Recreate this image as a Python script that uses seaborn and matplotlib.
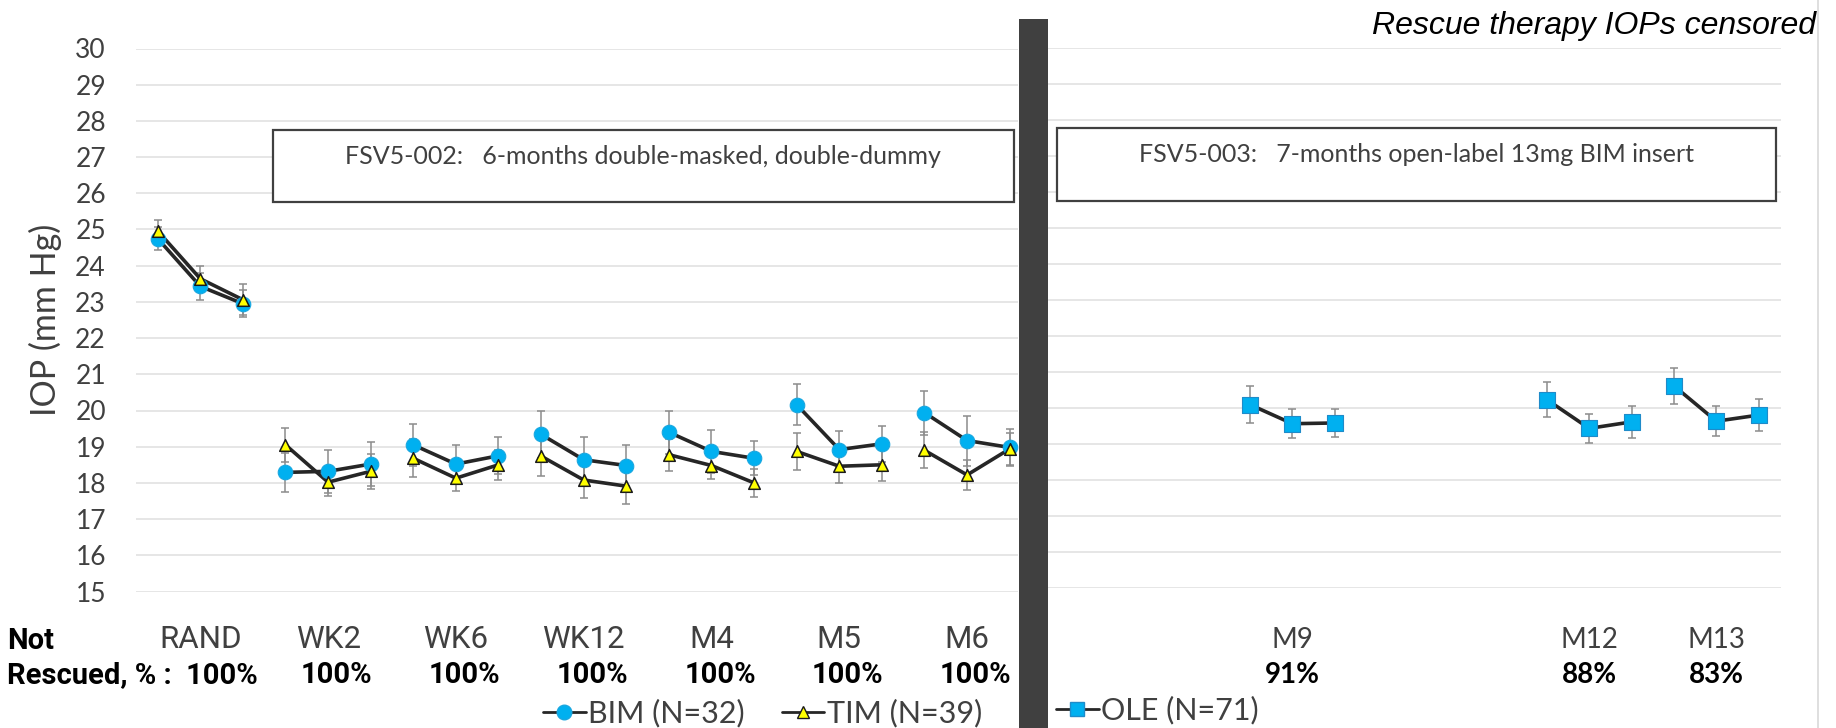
import numpy as np
import pandas as pd
import matplotlib
matplotlib.use("Agg")
import matplotlib.pyplot as plt
import matplotlib.transforms as mtransforms
from matplotlib.patches import Rectangle
from matplotlib.lines import Line2D
import seaborn as sns

# ---- FSV5-002: double-masked phase, three readings per visit ----
dm_visits = ["RAND", "WK2", "WK6", "WK12", "M4", "M5", "M6"]
bim_iop = [24.75, 23.43, 22.95,
           18.29, 18.32, 18.52,
           19.05, 18.52, 18.75,
           19.34, 18.64, 18.48,
           19.40, 18.87, 18.68,
           20.16, 18.92, 19.08,
           19.94, 19.17, 18.98]
bim_se = [0.32, 0.37, 0.37,
          0.53, 0.59, 0.60,
          0.58, 0.53, 0.51,
          0.66, 0.62, 0.57,
          0.60, 0.60, 0.47,
          0.56, 0.50, 0.49,
          0.61, 0.69, 0.50]
tim_iop = [24.96, 23.64, 23.06,
           19.05, 18.02, 18.32,
           18.68, 18.13, 18.50,
           18.74, 18.08, 17.91,
           18.78, 18.48, 18.00,
           18.87, 18.46, 18.50,
           18.90, 18.22, 18.94]
tim_se = [0.30, 0.35, 0.43,
          0.46, 0.37, 0.49,
          0.52, 0.34, 0.42,
          0.54, 0.50, 0.50,
          0.44, 0.37, 0.38,
          0.50, 0.46, 0.46,
          0.50, 0.42, 0.45]
dm_not_rescued = ["100%", "100%", "100%", "100%", "100%", "100%", "100%"]

# ---- FSV5-003: open-label extension ----
ole_visits = ["M9", "M12", "M13"]
ole_iop = [20.08, 19.55, 19.57,
           20.22, 19.42, 19.60,
           20.60, 19.62, 19.79]
ole_se = [0.51, 0.40, 0.40,
          0.48, 0.40, 0.44,
          0.50, 0.42, 0.45]
ole_not_rescued = ["91%", "88%", "83%"]

y_ticks = list(range(15, 31))

series_labels = ["BIM (N=32)", "TIM (N=39)", "OLE (N=71)"]
box_texts = ["FSV5-002:   6-months double-masked, double-dummy",
             "FSV5-003:   7-months open-label 13mg BIM insert"]

# ---- layout helpers (figure pixels) ----
W, H = 1836, 728
READS = 3


def fx(px):
    return px / W


def fy(py):
    return 1 - py / H


sns.set_style("white")
plt.rcParams["font.family"] = ["Lato", "DejaVu Sans"]

fig = plt.figure(figsize=(W / 100, H / 100), dpi=100)
fig.patch.set_facecolor("white")

BLUE = "#00B0F0"
YELLOW = "#FFFF00"
LINE = "#262626"
ERR = "#8C8C8C"
TXT = "#404040"

# long-form tables
dm = pd.DataFrame({
    "visit": np.repeat(dm_visits, READS),
    "slot": np.arange(len(dm_visits) * READS),
    "BIM": bim_iop, "BIM_se": bim_se,
    "TIM": tim_iop, "TIM_se": tim_se,
})
ole_start = [0, 7, 10]
ole = pd.DataFrame({
    "visit": np.repeat(ole_visits, READS),
    "slot": np.concatenate([np.arange(s, s + READS) for s in ole_start]),
    "OLE": ole_iop, "OLE_se": ole_se,
})


def draw_series(ax, df, col, marker, face, edge, size, ew):
    ax.errorbar(df["slot"], df[col], yerr=df[col + "_se"], fmt="none",
                ecolor=ERR, elinewidth=1.1, capsize=3.2, capthick=1.1, zorder=2)
    sns.lineplot(data=df, x="slot", y=col, units="visit", estimator=None,
                 color=LINE, lw=2.6, ax=ax, legend=False, zorder=3)
    sns.scatterplot(data=df, x="slot", y=col, marker=marker, s=size,
                    color=face, edgecolor=edge, linewidth=ew, ax=ax,
                    legend=False, zorder=4)


def style_axis(ax):
    for sp in ax.spines.values():
        sp.set_visible(False)
    ax.set_ylim(15, 30)
    ax.set_yticks(y_ticks)
    ax.grid(axis="y", color="#E4E4E4", lw=1.3)
    ax.grid(axis="x", visible=False)
    ax.set_axisbelow(True)
    ax.set_xlabel("")
    ax.set_ylabel("")
    ax.patch.set_alpha(0)


# ---- left panel ----
axL = fig.add_axes([fx(136.4), fy(591.5), fx(1018) - fx(136.4), (591.5 - 48.5) / H])
draw_series(axL, dm, "BIM", "o", BLUE, "#1AA7E0", 110, 0.8)
draw_series(axL, dm, "TIM", "^", YELLOW, "#1A1A1A", 70, 1.1)
style_axis(axL)
axL.set_xlim(-0.5, 20.195)
axL.set_xticks([READS * i + 1 for i in range(len(dm_visits))], dm_visits)
axL.set_yticklabels([str(v) for v in y_ticks])
axL.tick_params(axis="y", length=0, pad=21.9, labelsize=19, labelcolor=TXT)
axL.tick_params(axis="x", length=0, pad=40.9, labelsize=22.5, labelcolor=TXT)
for lab in axL.get_xticklabels():
    lab.set_fontfamily("Roboto")
    lab.set_va("baseline")

# ---- right panel ----
axR = fig.add_axes([fx(1048), fy(587.5), fx(1781) - fx(1048), 540 / H])
draw_series(axR, ole, "OLE", "s", BLUE, "#1F8BC9", 125, 0.8)
style_axis(axR)
axR.set_xlim(-4.764, 12.524)
axR.set_xticks([s + 1 for s in ole_start], ole_visits)
axR.set_yticklabels([])
axR.tick_params(axis="y", length=0)
axR.tick_params(axis="x", length=0, pad=43.6, labelsize=20, labelcolor=TXT)
for lab in axR.get_xticklabels():
    lab.set_va("baseline")

# ---- rescued-percentage row ----
fig.text(fx(7), fy(649), "Not", fontsize=21, fontweight="bold",
         family="Roboto", color="black", va="baseline", ha="left")
fig.text(fx(7), fy(683), "Rescued, % :  " + dm_not_rescued[0], fontsize=21,
         fontweight="bold", family="Roboto", color="black",
         va="baseline", ha="left")
trL = mtransforms.blended_transform_factory(axL.transData, fig.transFigure)
for i, pct in enumerate(dm_not_rescued[1:], start=1):
    axL.text(READS * i + 1.2, fy(683), pct, transform=trL, fontsize=21,
             fontweight="bold", family="Roboto", color="black",
             va="baseline", ha="center", clip_on=False)
trR = mtransforms.blended_transform_factory(axR.transData, fig.transFigure)
for s, pct in zip(ole_start, ole_not_rescued):
    axR.text(s + 1, fy(683), pct, transform=trR, fontsize=20,
             fontweight="bold", color="black", va="baseline", ha="center",
             clip_on=False)

# ---- y label and note ----
fig.text(fx(45), fy(320), "IOP (mm Hg)", rotation=90, fontsize=24.5,
         color=TXT, ha="center", va="center")
fig.text(fx(1816), fy(34), "Rescue therapy IOPs censored", fontsize=23,
         style="italic", family="Liberation Sans", color="black",
         ha="right", va="baseline")

# ---- study phase boxes ----
for (x0, y0, x1, y1), txt in zip([(272.5, 130, 1014.3, 201.7),
                                  (1057, 127.7, 1776, 201)], box_texts):
    fig.add_artist(Rectangle((fx(x0), fy(y1)), fx(x1) - fx(x0), (y1 - y0) / H,
                             transform=fig.transFigure, facecolor="white",
                             edgecolor="#404040", lw=1.6, zorder=5))
    fig.text(fx((x0 + x1) / 2), fy(y0 + 34), txt, fontsize=18, color=TXT,
             ha="center", va="baseline", zorder=6)

# ---- separator between studies ----
fig.add_artist(Rectangle((fx(1019), 0), fx(1048) - fx(1019), fy(19),
                         transform=fig.transFigure, facecolor="#404040",
                         edgecolor="none", zorder=10))
fig.add_artist(Line2D([fx(1818), fx(1818)], [0, 1], transform=fig.transFigure,
                      color="#D9D9D9", lw=1.2, zorder=1))

# ---- legends ----
hBIM = Line2D([], [], color=LINE, lw=2, marker="o", markersize=10.5,
              markerfacecolor=BLUE, markeredgecolor="#1AA7E0")
hTIM = Line2D([], [], color=LINE, lw=2, marker="^", markersize=8,
              markerfacecolor=YELLOW, markeredgecolor="#1A1A1A")
hOLE = Line2D([], [], color=LINE, lw=2, marker="s", markersize=10,
              markerfacecolor=BLUE, markeredgecolor="#1F8BC9")
legL = fig.legend([hBIM, hTIM], series_labels[:2], loc="center left",
                  bbox_to_anchor=(fx(543), fy(713)), ncol=2, frameon=False,
                  fontsize=22, handlelength=1.4, handletextpad=0.08,
                  columnspacing=1.2, borderpad=0, borderaxespad=0)
legR = fig.legend([hOLE], series_labels[2:], loc="center left",
                  bbox_to_anchor=(fx(1056), fy(710)), frameon=False,
                  fontsize=22, handlelength=1.4, handletextpad=0.08,
                  borderpad=0, borderaxespad=0)
for lg in (legL, legR):
    for t in lg.get_texts():
        t.set_color(TXT)

fig.savefig("out.png", dpi=100)
